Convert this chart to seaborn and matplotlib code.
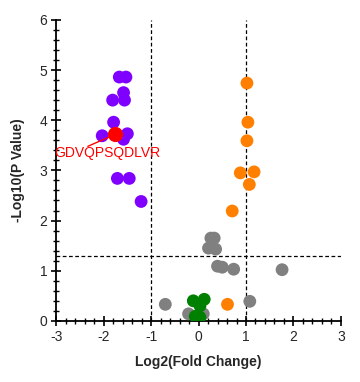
import numpy as np
import pandas as pd
import matplotlib
matplotlib.use("Agg")
import matplotlib.pyplot as plt
from matplotlib.ticker import MultipleLocator
import seaborn as sns

# Data
down_x = [-1.67, -1.53, -1.58, -1.81, -1.56, -1.79, -2.03, -1.50, -1.58, -1.71, -1.46, -1.21]
down_y = [4.86, 4.86, 4.55, 4.40, 4.40, 3.96, 3.69, 3.73, 3.62, 2.84, 2.84, 2.38]
up_x = [1.02, 1.04, 1.02, 0.88, 1.17, 1.07, 0.71, 0.61]
up_y = [4.74, 3.96, 3.59, 2.95, 2.97, 2.72, 2.19, 0.33]
ns_x = [0.26, 0.33, 0.21, 0.36, 0.40, 0.50, 0.74, 1.76, -0.70, 1.08, -0.21, 0.10]
ns_y = [1.65, 1.65, 1.45, 1.43, 1.09, 1.07, 1.03, 1.02, 0.33, 0.39, 0.14, 0.14]
ctl_x = [-0.11, 0.12, 0.03, -0.07, 0.03]
ctl_y = [0.40, 0.43, 0.30, 0.09, 0.07]
hl_x = [-1.75]
hl_y = [3.72]
hl_label = ["GDVQPSQDLVR"]

groups = (["ns"] * len(ns_x) + ["ctl"] * len(ctl_x) + ["up"] * len(up_x) + ["down"] * len(down_x))
df = pd.DataFrame({
    "x": ns_x + ctl_x + up_x + down_x,
    "y": ns_y + ctl_y + up_y + down_y,
    "g": groups,
})
palette = {"ns": "#808080", "ctl": "#008000", "up": "#FF8000", "down": "#8000FF"}

sns.set_style("white")
plt.rcParams["font.family"] = ["Liberation Sans", "DejaVu Sans"]
plt.rcParams["axes.unicode_minus"] = False

fig = plt.figure(figsize=(3.6, 3.82), dpi=100)
ax = fig.add_axes([0.156, 0.160, 0.791, 0.788])

sns.scatterplot(data=df, x="x", y="y", hue="g", palette=palette, s=85,
                linewidth=0, legend=False, ax=ax, zorder=3)
hl = pd.DataFrame({"x": hl_x, "y": hl_y})
sns.scatterplot(data=hl, x="x", y="y", color="#FF0000", s=120, linewidth=0,
                legend=False, ax=ax, zorder=4)

ax.annotate(hl_label[0], xy=(hl_x[0], hl_y[0]), xytext=(-1.93, 3.34),
            color="#FF0000", fontsize=10, ha="center", va="center",
            arrowprops=dict(arrowstyle="-", color="#FF0000", lw=1.0,
                            shrinkA=0, shrinkB=4, patchA=None,
                            relpos=(0.32, 1.0)), zorder=6)

ax.axvline(-1, color="black", ls=(0, (3, 2)), lw=0.9, zorder=1)
ax.axvline(1, color="black", ls=(0, (3, 2)), lw=0.9, zorder=1)
ax.axhline(-np.log10(0.05), color="black", ls=(0, (3, 2)), lw=0.9, zorder=1)

ax.set_xlim(-3, 3)
ax.set_ylim(0, 6)
ax.xaxis.set_major_locator(MultipleLocator(1))
ax.xaxis.set_minor_locator(MultipleLocator(0.2))
ax.yaxis.set_major_locator(MultipleLocator(1))
ax.yaxis.set_minor_locator(MultipleLocator(0.2))
ax.tick_params(which="major", direction="inout", length=7, width=1.2, labelsize=10,
               color="black", bottom=True, left=True, pad=3)
ax.tick_params(which="minor", direction="inout", length=4, width=1.0,
               color="black", bottom=True, left=True)

for s in ["top", "right"]:
    ax.spines[s].set_visible(False)
for s in ["left", "bottom"]:
    ax.spines[s].set_color("black")
    ax.spines[s].set_linewidth(1.3)

ax.set_xlabel("Log2(Fold Change)", fontsize=10, fontweight="bold", labelpad=8)
ax.set_ylabel("-Log10(P Value)", fontsize=10, fontweight="bold", labelpad=10)

fig.savefig("out.png", dpi=100)
